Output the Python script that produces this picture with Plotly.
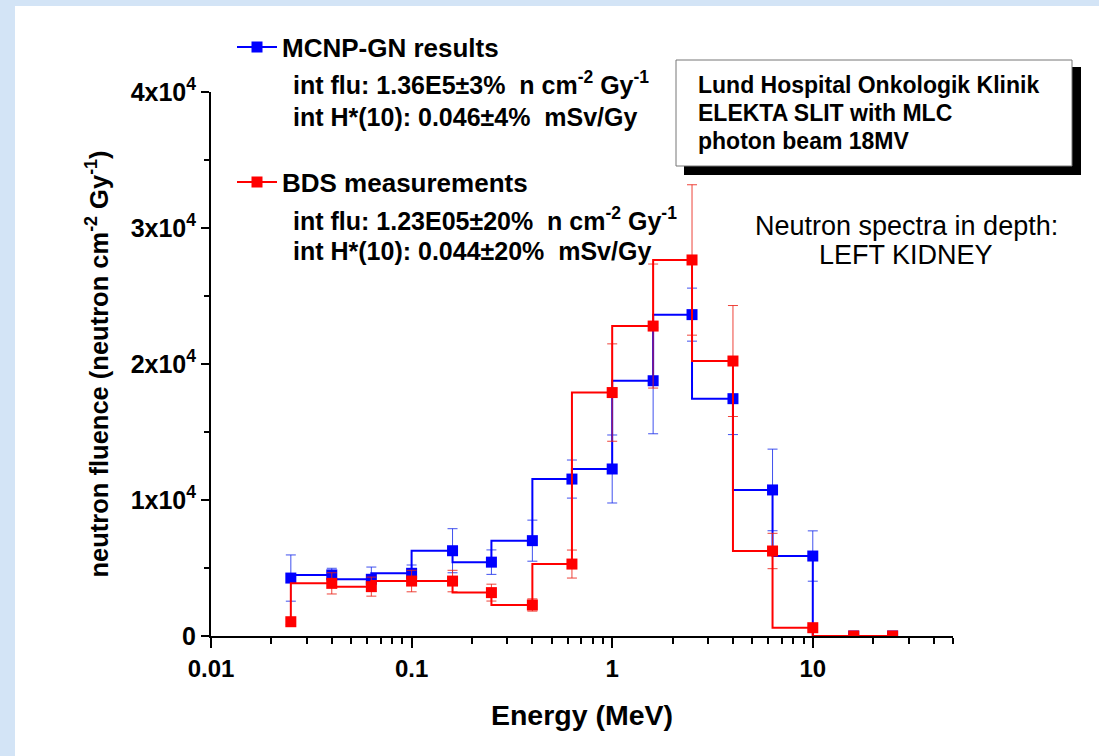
import plotly.graph_objects as go
import numpy as np

# ---- data ----
energy = [0.025, 0.04, 0.063, 0.1, 0.16, 0.25, 0.4, 0.63, 1.0, 1.6, 2.5, 4.0, 6.3, 10, 16, 25]
mcnp_vals = [4260, 4490, 4170, 4610, 6270, 5430, 7010, 11540, 12280, 18770, 23630, 17450, 10740, 5880, 0, 0]
mcnp_err = [1700, 490, 900, 610, 1620, 900, 1510, 1400, 2500, 3900, 1950, 2640, 3000, 1850, 0, 0]
bds_vals = [1050, 3870, 3630, 4040, 4040, 3190, 2280, 5290, 17900, 22790, 27650, 20220, 6250, 610, 0, 0]
bds_err = [210, 780, 700, 790, 790, 620, 450, 1030, 3580, 4560, 5530, 4080, 1300, 120, 0, 0]

x_tickvals = [0.01, 0.1, 1, 10]
x_ticktext = ["0.01", "0.1", "1", "10"]
y_tickvals = [0, 10000, 20000, 30000, 40000]
y_ticktext = ["0", "1x10<sup>4</sup>", "2x10<sup>4</sup>", "3x10<sup>4</sup>", "4x10<sup>4</sup>"]

# ---- geometry helpers (pixel -> paper) ----
W, H = 1099, 756
L, R, T, B = 211, 146, 92, 120
PW, PH = W - L - R, H - T - B


def px(xp):
    return (xp - L) / PW


def py(yp):
    return (H - B - yp) / PH


FONT = "Liberation Sans, Arial, sans-serif"
BLUE = "#0000ff"
RED = "#ff0000"

fig = go.Figure()
fig.add_trace(go.Scatter(
    x=energy, y=mcnp_vals, mode="lines+markers", name="MCNP-GN results",
    line=dict(shape="vh", color=BLUE, width=2),
    marker=dict(symbol="square", size=11, color=BLUE),
    error_y=dict(type="data", array=mcnp_err, color="rgba(30,50,235,0.85)", thickness=1, width=5),
    legend="legend",
))
fig.add_trace(go.Scatter(
    x=energy, y=bds_vals, mode="lines+markers", name="BDS measurements",
    line=dict(shape="vh", color=RED, width=2),
    marker=dict(symbol="square", size=11, color=RED),
    error_y=dict(type="data", array=bds_err, color="rgba(235,35,25,0.85)", thickness=1, width=5),
    legend="legend2",
))

minor_x = [k * 10.0 ** d for d in range(-2, 2) for k in range(2, 10) if k * 10.0 ** d <= 50]

fig.update_xaxes(
    type="log", range=[-2, np.log10(50)],
    tickmode="array", tickvals=x_tickvals, ticktext=x_ticktext,
    ticks="outside", ticklen=10, tickwidth=2, tickcolor="black",
    minor=dict(tickmode="array", tickvals=minor_x, ticks="outside", ticklen=6, tickwidth=1.5, tickcolor="black"),
    showline=True, linecolor="black", linewidth=2, showgrid=False, zeroline=False,
    tickfont=dict(family=FONT, size=24, color="black", weight="bold"),
    title=dict(text="<b>Energy (MeV)</b>", font=dict(family=FONT, size=28.5, color="black"), standoff=24),
)
fig.update_yaxes(
    range=[0, 40000],
    tickmode="array", tickvals=y_tickvals, ticktext=y_ticktext,
    ticks="outside", ticklen=8, tickwidth=2, tickcolor="black",
    minor=dict(dtick=5000, ticks="outside", ticklen=5, tickwidth=1.5, tickcolor="black"),
    showline=True, linecolor="black", linewidth=2, showgrid=False, zeroline=False,
    tickfont=dict(family=FONT, size=25, color="black", weight="bold"),
    title=dict(text="<b>neutron fluence (neutron cm<sup>-2</sup> Gy<sup>-1</sup>)</b>",
               font=dict(family=FONT, size=25.5, color="black"), standoff=15),
)

legend_common = dict(
    xanchor="left", yanchor="middle", bgcolor="rgba(0,0,0,0)", borderwidth=0,
    font=dict(family=FONT, size=26, color="black", weight="bold"), itemwidth=40,
)
fig.update_layout(
    legend=dict(x=px(232), y=py(47), **legend_common),
    legend2=dict(x=px(232), y=py(182), **legend_common),
)

# background panel and info box
shapes = [
    dict(type="rect", xref="paper", yref="paper", x0=px(15), x1=px(1110), y0=py(770), y1=py(6),
         fillcolor="white", line=dict(width=0), layer="below"),
    dict(type="rect", xref="paper", yref="paper", x0=px(684), x1=px(1081), y0=py(175), y1=py(67),
         fillcolor="black", line=dict(width=0), layer="above"),
    dict(type="rect", xref="paper", yref="paper", x0=px(676), x1=px(1072), y0=py(166), y1=py(60),
         fillcolor="white", line=dict(width=1, color="#777777"), layer="above"),
]

NB = "\u00a0"
annots = [
    ("<b>int flu: 1.36E5±3%" + NB * 2 + "n cm<sup>-2</sup> Gy<sup>-1</sup></b>", 291, 83),
    ("<b>int H*(10): 0.046±4%" + NB * 2 + "mSv/Gy</b>", 291, 117),
    ("<b>int flu: 1.23E05±20%" + NB * 2 + "n cm<sup>-2</sup> Gy<sup>-1</sup></b>", 291, 219),
    ("<b>int H*(10): 0.044±20%" + NB * 2 + "mSv/Gy</b>", 291, 251),
]
annotations = []
for text, ax_, ay_ in annots:
    annotations.append(dict(text=text, x=px(ax_), y=py(ay_), xref="paper", yref="paper",
                            xanchor="left", yanchor="middle", showarrow=False,
                            font=dict(family=FONT, size=25, color="black")))
box_lines = [("Lund Hospital Onkologik Klinik", 85), ("ELEKTA SLIT with MLC", 113), ("photon beam 18MV", 141)]
for text, ay_ in box_lines:
    annotations.append(dict(text="<b>" + text + "</b>", x=px(696), y=py(ay_), xref="paper", yref="paper",
                            xanchor="left", yanchor="middle", showarrow=False,
                            font=dict(family=FONT, size=23, color="black")))
annotations.append(dict(text="Neutron spectra in depth:", x=px(906), y=py(226), xref="paper", yref="paper",
                        xanchor="center", yanchor="middle", showarrow=False,
                        font=dict(family=FONT, size=27, color="black")))
annotations.append(dict(text="LEFT KIDNEY", x=px(906), y=py(255), xref="paper", yref="paper",
                        xanchor="center", yanchor="middle", showarrow=False,
                        font=dict(family=FONT, size=27, color="black")))

fig.update_layout(
    width=W, height=H,
    margin=dict(l=L, r=R, t=T, b=B, autoexpand=False),
    paper_bgcolor="#d3e4f6", plot_bgcolor="white",
    shapes=shapes, annotations=annotations,
    showlegend=True,
)

fig.write_html("out.html", config={"displayModeBar": False},
               post_script="document.body.style.margin='0px';document.body.style.overflow='hidden';")
